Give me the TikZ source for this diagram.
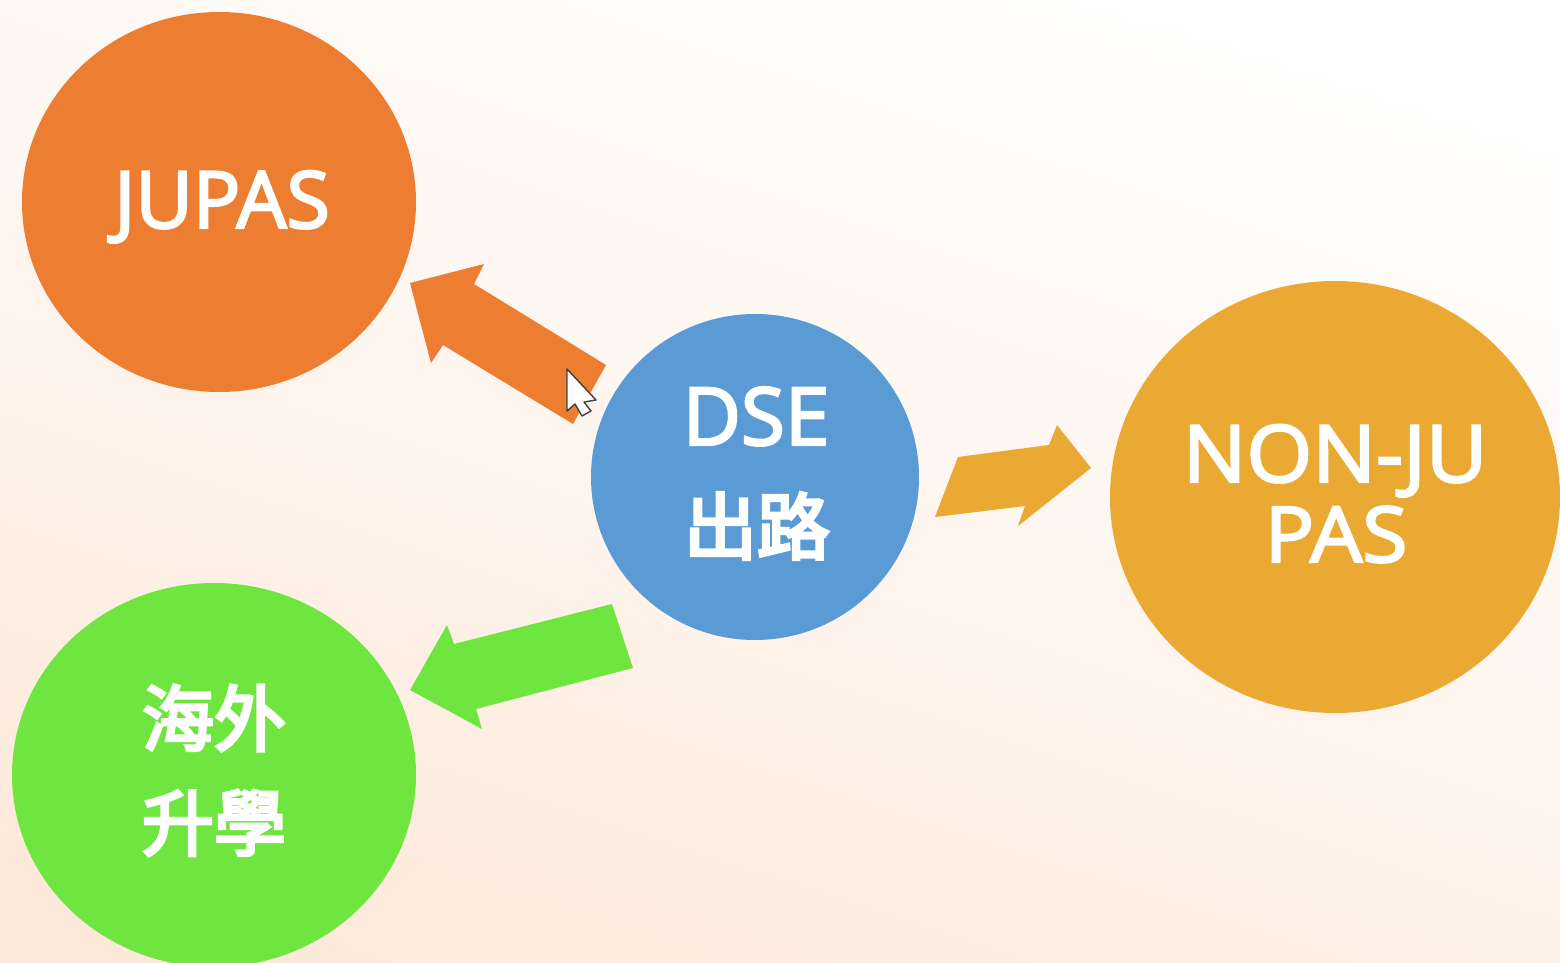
\documentclass[tikz,border=0pt]{standalone}
\usepackage{fontspec}
\setmainfont{Open Sans}
\newfontfamily\latsemi[FakeBold=3]{Open Sans}
\newfontfamily\latwide[FakeBold=3,FakeStretch=1.07]{Open Sans}
\newfontfamily\cjk[FakeBold=4.5]{Noto Sans CJK TC}
\definecolor{cOrange}{HTML}{ED7D31}
\definecolor{cBlue}{HTML}{5B9BD5}
\definecolor{cGold}{HTML}{E9A932}
\definecolor{cGreen}{HTML}{6FE53F}
\definecolor{bgLight}{HTML}{FFFFFF}
\definecolor{bgDark}{HTML}{FDE9DA}
\usetikzlibrary{shapes.geometric}
\tikzset{
  label text/.style={text=white,align=center,inner sep=0pt},
  base text/.style={label text,anchor=base},
}
\begin{document}
\begin{tikzpicture}[x=0.5pt,y=-0.5pt]
\useasboundingbox (0,0) rectangle (1560,963);
\begin{scope}
\clip (0,0) rectangle (1560,963);
\shade[bottom color=bgDark,top color=bgLight,shading angle=-18,middle color=bgDark!45!white] (-200,0) rectangle (1760,963);
\fill[cOrange] (219,202) ellipse [x radius=197,y radius=190];
\fill[cGreen] (214,775) ellipse [x radius=202,y radius=192];
\fill[cBlue] (755,477) ellipse [x radius=164,y radius=163];
\fill[cGold] (1335,497) ellipse [x radius=225,y radius=216];
\end{scope}
\node[base text,font=\fontsize{39.5}{40}\selectfont\latsemi] (jupas) at (222,228) {JUPAS};
\node[base text,font=\fontsize{40}{40}\selectfont\latsemi] (dse) at (756,445) {DSE};
\node[label text,font=\fontsize{36.5}{40}\selectfont\cjk] (chulu) at (757,526) {出路};
\node[base text,font=\fontsize{39.5}{40}\selectfont\latwide] (non) at (1335,482) {NON-JU};
\node[base text,font=\fontsize{38.5}{40}\selectfont\latwide] (pas) at (1336,562) {PAS};
\node[label text,font=\fontsize{36}{40}\selectfont\cjk] (hai) at (214,718) {海外};
\node[label text,font=\fontsize{36}{40}\selectfont\cjk] (sheng) at (214,823) {升學};
\fill[cOrange] (410,283)--(484,264)--(474,284)--(606,365)--(573,424)--(443,345)--(431,363)--cycle;
\fill[cGreen] (410,690)--(447,625)--(454,644)--(612,604)--(633,668)--(476,709)--(482,729)--cycle;
\fill[cGold] (935,517)--(958,457)--(1049,445)--(1057,425)--(1091,468)--(1018,526)--(1025,506)--cycle;
\draw[fill=white,draw=black!75,line width=0.7pt,line join=round] (567,369)--(596,400)--(584,402)--(591,411)--(582,416)--(575,404)--(567,411)--cycle;
\end{tikzpicture}
\end{document}
